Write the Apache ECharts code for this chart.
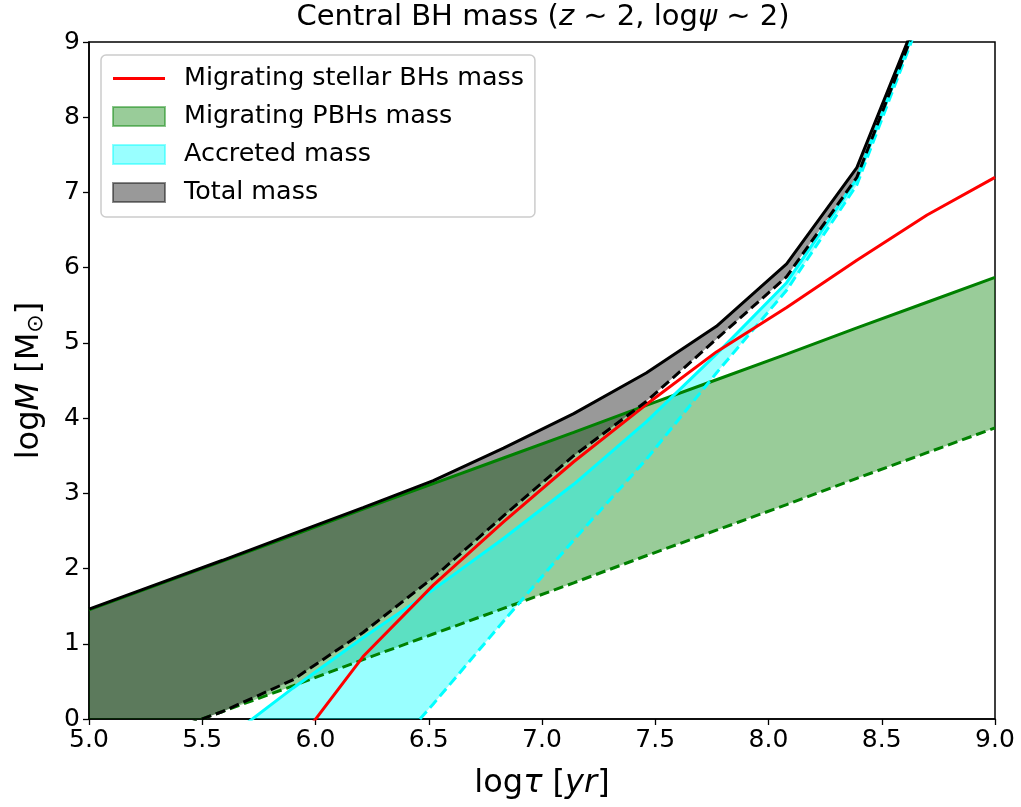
<!DOCTYPE html>
<html>
<head>
<meta charset="utf-8">
<script src="https://cdn.jsdelivr.net/npm/echarts@6/dist/echarts.min.js"></script>
<style>html,body{margin:0;padding:0;background:#fff}#c{width:1021px;height:807px}</style>
</head>
<body>
<div id="c"></div>
<script>
// ---- data ----
const xTicks = [5.0, 5.5, 6.0, 6.5, 7.0, 7.5, 8.0, 8.5, 9.0];
const yTicks = [0, 1, 2, 3, 4, 5, 6, 7, 8, 9];

const xGreen = [5.0, 5.28, 5.59, 5.90, 6.21, 6.52, 6.83, 7.14, 7.46, 7.77, 8.08, 8.39, 8.70, 9.0];
const greenUpper = [1.45, 1.76, 2.10, 2.44, 2.79, 3.13, 3.47, 3.81, 4.17, 4.51, 4.85, 5.20, 5.54, 5.87];
const greenLower = [-0.55, -0.24, 0.10, 0.44, 0.79, 1.13, 1.47, 1.81, 2.17, 2.51, 2.85, 3.20, 3.54, 3.87];

const xCyan = [5.59, 5.90, 6.21, 6.52, 6.83, 7.14, 7.46, 7.77, 8.08, 8.39, 8.70];
const cyanUpper = [-0.30, 0.41, 1.08, 1.72, 2.40, 3.12, 3.95, 4.85, 5.80, 7.18, 9.60];
const cyanLower = [-3.00, -2.00, -0.85, 0.20, 1.30, 2.38, 3.45, 4.60, 5.70, 7.10, 9.55];

const xTotal = [5.0, 5.28, 5.59, 5.90, 6.21, 6.52, 6.83, 7.14, 7.46, 7.77, 8.08, 8.39, 8.70];
const totalUpper = [1.46, 1.77, 2.11, 2.46, 2.81, 3.17, 3.60, 4.06, 4.60, 5.22, 6.05, 7.33, 9.65];
const totalLower = [-0.55, -0.24, 0.10, 0.52, 1.15, 1.88, 2.70, 3.50, 4.22, 5.05, 5.88, 7.20, 9.60];

const xRed = [5.90, 6.21, 6.52, 6.83, 7.14, 7.46, 7.77, 8.08, 8.39, 8.70, 9.0];
const redMass = [-0.40, 0.83, 1.78, 2.62, 3.42, 4.18, 4.88, 5.47, 6.10, 6.70, 7.20];

const names = ['Migrating stellar BHs mass', 'Migrating PBHs mass', 'Accreted mass', 'Total mass'];

// ---- helpers ----
const pairs = (xs, ys) => xs.map((x, i) => [x, ys[i]]);
// for stacked band series the value (y) goes in dimension 0 so that it is the stacked dimension
const yxPairs = (xs, ys) => xs.map((x, i) => [ys[i], x]);
const FONT = 'DejaVu Sans';

function band(stackId, xs, up, lo, fill, name) {
  const diff = up.map((v, i) => v - lo[i]);
  return [
    { type: 'line', stack: stackId, stackStrategy: 'all', data: yxPairs(xs, lo), encode: { x: 1, y: 0 },
      symbol: 'none', lineStyle: { width: 0, opacity: 0 }, silent: true, z: 2 },
    { type: 'line', name: name, stack: stackId, stackStrategy: 'all', data: yxPairs(xs, diff), encode: { x: 1, y: 0 },
      symbol: 'none', lineStyle: { width: 0, opacity: 0 }, areaStyle: { color: fill, opacity: 1 }, silent: true, z: 2 }
  ];
}
function line(xs, ys, color, dashed, name) {
  const s = { type: 'line', data: pairs(xs, ys), symbol: 'none', silent: true, z: 3,
    lineStyle: { color: color, width: 3, type: dashed ? [10, 5] : 'solid' }, itemStyle: { color: color } };
  if (name) s.name = name;
  return s;
}

const series = [].concat(
  band('g', xGreen, greenUpper, greenLower, 'rgba(0,128,0,0.4)', names[1]),
  band('c', xCyan, cyanUpper, cyanLower, 'rgba(0,255,255,0.4)', names[2]),
  band('t', xTotal, totalUpper, totalLower, 'rgba(0,0,0,0.4)', names[3]),
  [
    line(xGreen, greenUpper, '#008000', false),
    line(xGreen, greenLower, '#008000', true),
    line(xCyan, cyanUpper, '#00ffff', false),
    line(xCyan, cyanLower, '#00ffff', true),
    line(xRed, redMass, '#ff0000', false, names[0]),
    line(xTotal, totalUpper, '#000000', false),
    line(xTotal, totalLower, '#000000', true)
  ]
);

const chart = echarts.init(document.getElementById('c'), null, { renderer: 'canvas' });
chart.setOption({
  animation: false,
  backgroundColor: '#ffffff',
  textStyle: { fontFamily: FONT },
  title: {
    text: 'Central BH mass ({i|z} ∼ 2, log{i|ψ} ∼ 2)',
    left: 543, top: 3, textAlign: 'center', padding: 0,
    textStyle: { fontFamily: FONT, fontSize: 29, fontWeight: 'normal', color: '#000',
      rich: { i: { fontFamily: FONT, fontSize: 29, fontStyle: 'italic', color: '#000' } } }
  },
  grid: { left: 89, right: 26, top: 42, bottom: 88, show: true, borderColor: '#000', borderWidth: 1.5, backgroundColor: 'transparent' },
  legend: {
    orient: 'vertical', left: 101, top: 55,
    padding: [11, 11, 12, 11],
    itemWidth: 52, itemHeight: 19, itemGap: 13,
    backgroundColor: 'rgba(255,255,255,0.8)', borderColor: '#cccccc', borderWidth: 1.5, borderRadius: 5,
    selectedMode: false,
    textStyle: { fontFamily: FONT, fontSize: 25.4, color: '#000', padding: [0, 0, 0, 14] },
    data: [
      { name: names[0], icon: 'path://M0,0L0,0ZM0,8H52V11H0ZM52,19L52,19Z', itemStyle: { color: '#ff0000' } },
      { name: names[1], icon: 'rect', itemStyle: { color: 'rgba(0,128,0,0.4)', borderColor: 'rgba(0,128,0,0.45)', borderWidth: 2 } },
      { name: names[2], icon: 'rect', itemStyle: { color: 'rgba(0,255,255,0.4)', borderColor: 'rgba(0,255,255,0.45)', borderWidth: 2 } },
      { name: names[3], icon: 'rect', itemStyle: { color: 'rgba(0,0,0,0.4)', borderColor: 'rgba(0,0,0,0.45)', borderWidth: 2 } }
    ]
  },
  xAxis: {
    type: 'value', min: xTicks[0], max: xTicks[xTicks.length - 1], interval: 0.5,
    name: 'log{i|τ} [{i|yr}]', nameLocation: 'middle', nameGap: 49,
    nameTextStyle: { fontFamily: FONT, fontSize: 32, color: '#000',
      rich: { i: { fontFamily: FONT, fontSize: 32, fontStyle: 'italic', color: '#000' } } },
    axisLine: { show: true, lineStyle: { color: '#000', width: 1.5 } },
    axisTick: { show: true, inside: false, length: 6, lineStyle: { color: '#000', width: 1.3 } },
    axisLabel: { fontFamily: FONT, fontSize: 25, color: '#000', margin: 9, formatter: v => v.toFixed(1) },
    splitLine: { show: false }
  },
  yAxis: {
    type: 'value', min: yTicks[0], max: yTicks[yTicks.length - 1], interval: 1,
    name: 'log{i|M} [M{s|⊙}]', nameLocation: 'middle', nameGap: 42,
    nameTextStyle: { fontFamily: FONT, fontSize: 32, color: '#000',
      rich: { i: { fontFamily: FONT, fontSize: 32, fontStyle: 'italic', color: '#000' },
              s: { fontFamily: FONT, fontSize: 22, color: '#000', verticalAlign: 'bottom', padding: [13, 0, 0, 0] } } },
    axisLine: { show: true, lineStyle: { color: '#000', width: 1.5 } },
    axisTick: { show: true, inside: false, length: 6, lineStyle: { color: '#000', width: 1.3 } },
    axisLabel: { fontFamily: FONT, fontSize: 25, color: '#000', margin: 9 },
    splitLine: { show: false }
  },
  series: series
});
</script>
</body>
</html>
